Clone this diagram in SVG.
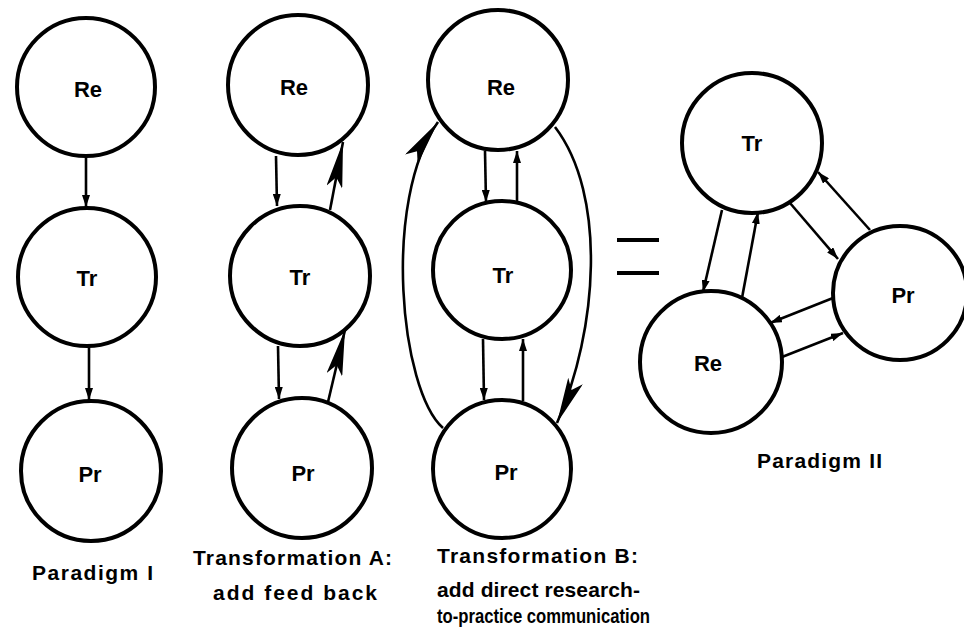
<svg xmlns="http://www.w3.org/2000/svg" width="964" height="635" viewBox="0 0 964 635">
<defs>
<style>
.node circle{fill:#fff;stroke:#000;stroke-width:4}
.node text{font-family:"Liberation Sans",Arial,sans-serif;font-weight:bold;font-size:22px;text-anchor:middle;fill:#000}
.cap{font-family:"Liberation Sans",Arial,sans-serif;font-weight:bold;font-size:21px;fill:#000}
#connectors path,#connectors line{fill:none;stroke:#000;stroke-width:2.6}
.s{marker-end:url(#sm)}
.b{marker-end:url(#bg)}
</style>
<marker id="sm" markerUnits="userSpaceOnUse" markerWidth="12" markerHeight="8" refX="12" refY="4" orient="auto"><path d="M0,0 L12,4 L0,8 z" fill="#000"/></marker>
<marker id="bg" markerUnits="userSpaceOnUse" markerWidth="46" markerHeight="16" refX="46" refY="8" orient="auto"><path d="M0,0 L46,8 L0,16 L10,8 z" fill="#000"/></marker>
</defs>
<rect width="964" height="635" fill="#fff"/>
<g id="connectors">
<line class="s" x1="86" y1="157" x2="86" y2="207"/>
<line class="s" x1="89" y1="347" x2="89" y2="400"/>
<line class="s" x1="276" y1="156" x2="277" y2="206"/>
<line class="b" x1="330" y1="210" x2="343" y2="142"/>
<line class="s" x1="278" y1="346" x2="279" y2="399"/>
<line class="b" x1="328" y1="402" x2="345" y2="330"/>
<line class="s" x1="485" y1="151" x2="486" y2="202"/>
<line class="s" x1="517" y1="205" x2="517" y2="151"/>
<line class="s" x1="483" y1="339" x2="484" y2="400"/>
<line class="s" x1="523" y1="401" x2="523" y2="339"/>
<path class="b" d="M443,428 C400,390 382,200 438,122"/>
<path class="b" d="M555,127 C607,195 598,330 557,423"/>
<line class="s" x1="722" y1="210" x2="703" y2="292"/>
<line class="s" x1="742" y1="298" x2="758" y2="212"/>
<line class="s" x1="790" y1="203" x2="838" y2="259"/>
<line class="s" x1="870" y1="230" x2="818" y2="172"/>
<line class="s" x1="833" y1="298" x2="770" y2="323"/>
<line class="s" x1="782" y1="357" x2="843" y2="333"/>
</g>
<g id="P1_Re" class="node"><circle cx="86" cy="87" r="69"/><text x="88" y="97">Re</text></g>
<g id="P1_Tr" class="node"><circle cx="87" cy="277" r="69"/><text x="87" y="286">Tr</text></g>
<g id="P1_Pr" class="node"><circle cx="91" cy="471" r="70"/><text x="90" y="482">Pr</text></g>
<g id="A_Re" class="node"><circle cx="298" cy="85" r="70"/><text x="294" y="95">Re</text></g>
<g id="A_Tr" class="node"><circle cx="300" cy="276" r="70"/><text x="300" y="285">Tr</text></g>
<g id="A_Pr" class="node"><circle cx="302" cy="468" r="70"/><text x="303" y="481">Pr</text></g>
<g id="B_Re" class="node"><circle cx="498" cy="80" r="70"/><text x="501" y="95">Re</text></g>
<g id="B_Tr" class="node"><circle cx="502" cy="270" r="69"/><text x="503" y="283">Tr</text></g>
<g id="B_Pr" class="node"><circle cx="502" cy="469" r="69"/><text x="506" y="480">Pr</text></g>
<g id="P2_Tr" class="node"><circle cx="752" cy="143" r="70"/><text x="752" y="151">Tr</text></g>
<g id="P2_Pr" class="node"><circle cx="900" cy="293" r="67"/><text x="903" y="303">Pr</text></g>
<g id="P2_Re" class="node"><circle cx="711" cy="362" r="71"/><text x="708" y="371">Re</text></g>
<g id="equals"><rect x="617" y="238" width="42" height="4" fill="#000"/><rect x="617" y="271" width="42" height="4" fill="#000"/></g>
<g id="captions">
<text class="cap" x="32" y="580" textLength="121" lengthAdjust="spacing">Paradigm I</text>
<text class="cap" x="193" y="565" textLength="199" lengthAdjust="spacing">Transformation A:</text>
<text class="cap" x="213" y="600" textLength="164" lengthAdjust="spacing">add feed back</text>
<text class="cap" x="437" y="563" textLength="201" lengthAdjust="spacing">Transformation B:</text>
<text class="cap" x="437" y="597" textLength="203" lengthAdjust="spacing">add direct research-</text>
<text class="cap" x="437" y="623" textLength="213" lengthAdjust="spacingAndGlyphs">to-practice communication</text>
<text class="cap" x="757" y="468" textLength="125" lengthAdjust="spacing">Paradigm II</text>
</g>
</svg>
